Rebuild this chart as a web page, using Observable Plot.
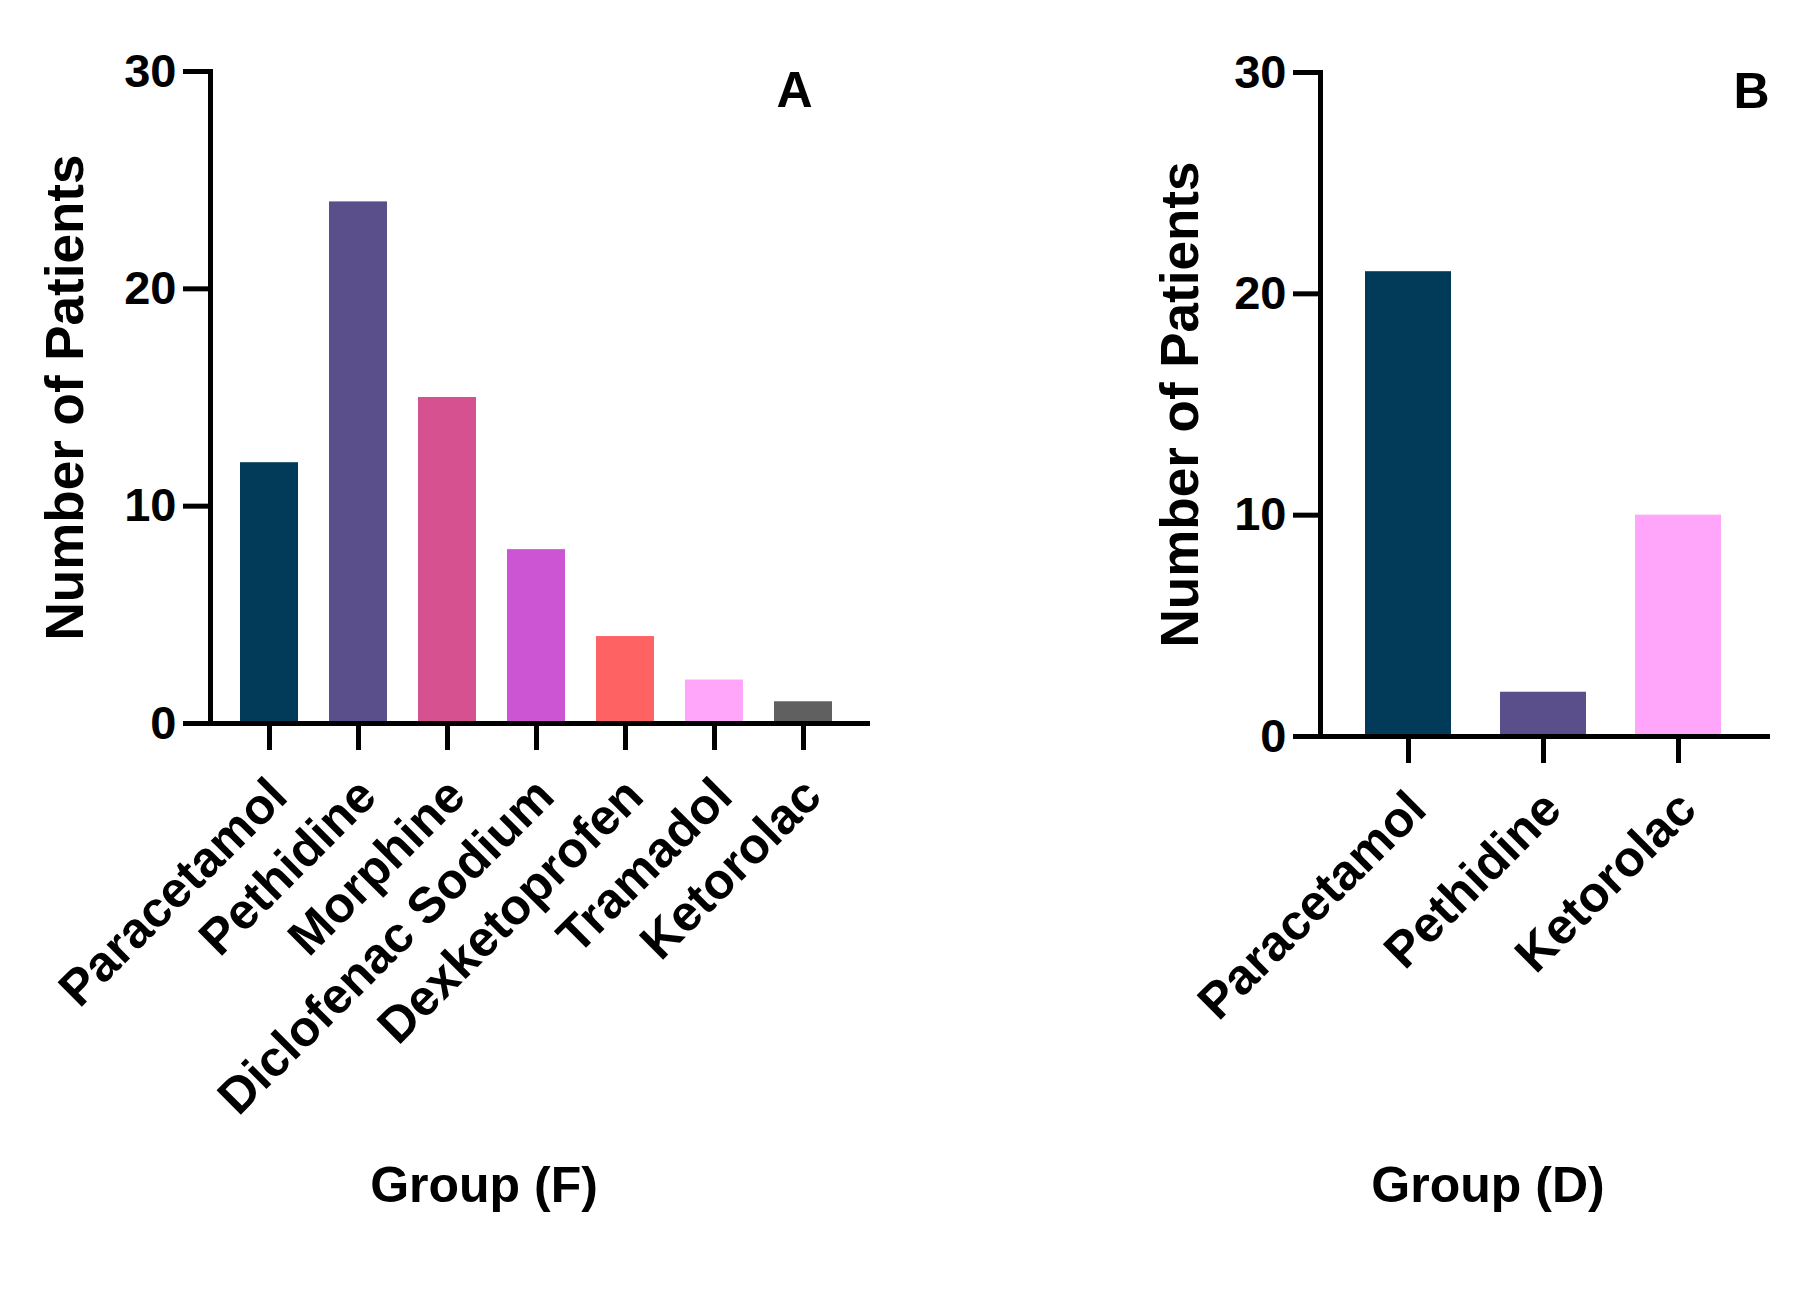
<!DOCTYPE html>
<html><head><meta charset="utf-8">
<script src="https://cdn.jsdelivr.net/npm/d3@7"></script>
<script src="https://cdn.jsdelivr.net/npm/@observablehq/plot@0.6"></script>
<style>
body{margin:0;background:#fff}
#wrap{position:relative;width:1804px;height:1291px;font-family:"Liberation Sans",Arial,sans-serif}
#a{position:absolute;left:0;top:0}
#b{position:absolute;left:900px;top:0}
</style></head><body><div id="wrap"><div id="a"></div><div id="b"></div></div>
<script>
// Panel A: Group (F)
const drugsF = ["Paracetamol","Pethidine","Morphine","Diclofenac Sodium","Dexketoprofen","Tramadol","Ketorolac"];
const patientsF = [12,24,15,8,4,2,1];
const colorsF = ["#023b59","#5a4e8b","#d55190","#cc55d4","#ff6262","#ffa5fa","#606060"];
// Panel B: Group (D)
const drugsD = ["Paracetamol","Pethidine","Ketorolac"];
const patientsD = [21,2,10];
const colorsD = ["#023b59","#5a4e8b","#ffa5fa"];
const yTicks = [0,10,20,30];
const yLabel = "Number of Patients";

function panel(o) {
  const table = o.drugs.map((d,i)=>({drug:d, n:o.values[i]}));
  return Plot.plot({
    width:o.width, height:1291,
    marginLeft:o.ml, marginRight:o.mr, marginTop:o.mt, marginBottom:o.mb,
    style:{fontFamily:"'Liberation Sans', Arial, sans-serif", fontWeight:"bold", background:"white", color:"black", overflow:"visible"},
    x:{domain:o.drugs, range:o.xRange, paddingInner:o.pi, paddingOuter:0},
    y:{domain:[0,30]},
    color:{domain:o.drugs, range:o.colors},
    marks:[
      Plot.barY(table,{x:"drug", y:"n", fill:"drug"}),
      Plot.frame({anchor:"left", strokeWidth:5, strokeLinecap:"square"}),
      Plot.frame({anchor:"bottom", strokeWidth:5, strokeLinecap:"square"}),
      Plot.axisY({ticks:yTicks, tickSize:27, tickPadding:7, fontSize:47, strokeWidth:5, label:null}),
      Plot.axisX({tickSize:27, tickFormat:()=>"", strokeWidth:5, label:null}),
      Plot.axisX({tickSize:0, tickPadding:64, dx:9, tickRotate:-45, fontSize:50, label:null}),
      Plot.text([yLabel],{frameAnchor:"left", rotate:-90, dx:o.yLabelDx, fontSize:53, text:d=>d, lineAnchor:"middle", textAnchor:"middle"}),
      Plot.text([o.xLabel],{frameAnchor:"bottom", dx:o.xLabelDx, dy:o.xLabelDy, fontSize:50, text:d=>d, lineAnchor:"middle", textAnchor:"middle"}),
      Plot.text([o.letter],{frameAnchor:"top-left", dx:o.letterDx, dy:19, fontSize:50, text:d=>d, lineAnchor:"middle", textAnchor:"middle"})
    ]
  });
}

document.getElementById("a").append(panel({
  drugs:drugsF, values:patientsF, colors:colorsF, width:900,
  ml:210, mr:33, mt:71, mb:1291-723, xRange:[239,832], pi:0.35,
  yLabelDx:-144, xLabel:"Group (F)", xLabelDx:-55, xLabelDy:462, letter:"A", letterDx:584
}));
document.getElementById("b").append(panel({
  drugs:drugsD, values:patientsD, colors:colorsD, width:904,
  ml:420, mr:37, mt:72, mb:1291-736, xRange:[465,821], pi:0.363,
  yLabelDx:-139, xLabel:"Group (D)", xLabelDx:-56, xLabelDy:449, letter:"B", letterDx:431
}));
</script></body></html>
